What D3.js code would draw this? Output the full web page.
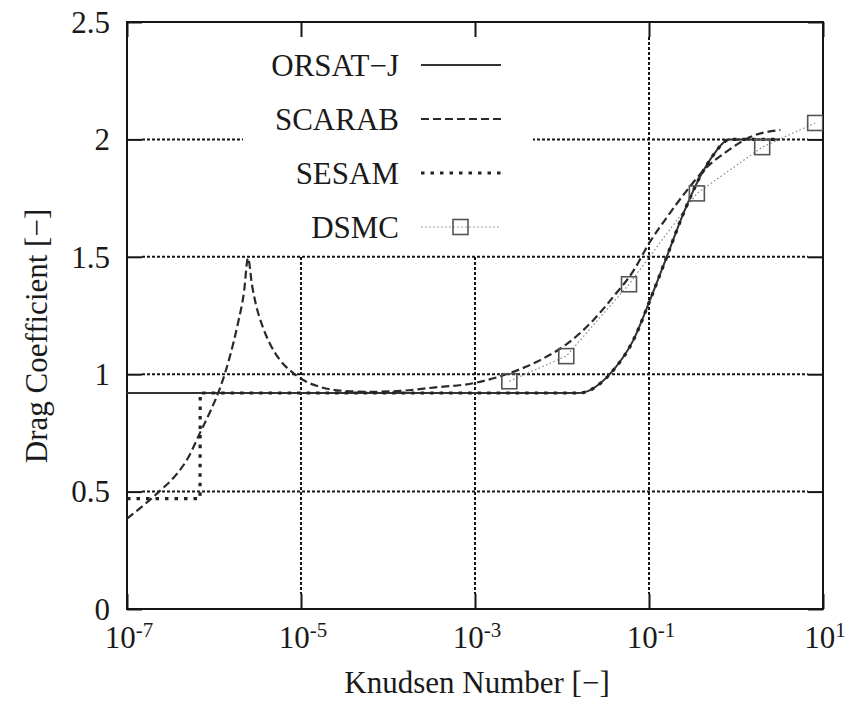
<!DOCTYPE html>
<html>
<head>
<meta charset="utf-8">
<script src="https://cdn.jsdelivr.net/npm/d3@7"></script>
<style>
  html, body { margin: 0; padding: 0; background: #fff; }
  svg text { font-family: "Liberation Serif", "Times New Roman", Times, "Nimbus Roman", "DejaVu Serif", serif; fill: #1a1a1a; }
</style>
</head>
<body>
<svg id="chart" width="845" height="702"></svg>
<script>
// ---- data ----
const xTicks = [1e-7, 1e-5, 1e-3, 1e-1, 1e1];
const xTickExp = ["-7", "-5", "-3", "-1", "1"];
const yTicks = [0, 0.5, 1, 1.5, 2, 2.5];
const yTickLabels = ["0", "0.5", "1", "1.5", "2", "2.5"];

const seriesNames = ["ORSAT\u2212J", "SCARAB", "SESAM", "DSMC"];

const orsatKn = [1e-7, 0.0161, 0.0205, 0.0274, 0.0389, 0.0661, 0.1026, 0.160, 0.248, 0.385, 0.600, 0.708, 0.851, 3.21];
const orsatCd = [0.92, 0.92, 0.93, 0.96, 1.017, 1.145, 1.315, 1.50, 1.684, 1.84, 1.953, 1.985, 2.0, 2.0];

const sesamKn = [1e-7, 6.90e-7, 6.95e-7, 0.0161, 0.0205, 0.0274, 0.0389, 0.0661, 0.1026, 0.160, 0.248, 0.385, 0.600, 0.708, 0.851, 3.21];
const sesamCd = [0.47, 0.47, 0.92, 0.92, 0.93, 0.96, 1.017, 1.145, 1.315, 1.50, 1.684, 1.84, 1.953, 1.985, 2.0, 2.0];

const scarabKn = [1e-7, 1.61e-7, 2.39e-7, 3.56e-7, 5.02e-7, 6.90e-7, 8.99e-7, 1.172e-6, 1.528e-6, 1.888e-6, 2.213e-6, 2.46e-6,
  2.735e-6, 3.04e-6, 3.565e-6, 4.405e-6, 5.74e-6, 7.89e-6, 1.112e-5, 1.652e-5, 2.805e-5, 6.21e-5,
  1.38e-4, 3.31e-4, 1e-3, 2.75e-3, 5.62e-3, 0.0115, 0.0229, 0.0389, 0.0661, 0.1, 0.162, 0.269, 0.457, 0.794, 1.45, 3.24];
const scarabCd = [0.385, 0.447, 0.503, 0.566, 0.643, 0.750, 0.839, 0.941, 1.078, 1.218, 1.350, 1.495,
  1.380, 1.295, 1.210, 1.129, 1.060, 1.009, 0.971, 0.946, 0.930, 0.925,
  0.929, 0.943, 0.963, 1.01, 1.06, 1.13, 1.23, 1.33, 1.44, 1.557, 1.67, 1.78, 1.88, 1.95, 2.01, 2.04];

const dsmcKn = [2.48e-3, 0.0112, 0.0589, 0.355, 2.0, 8.13];
const dsmcCd = [0.97, 1.077, 1.383, 1.77, 1.967, 2.07];

// ---- layout ----
const L = 127, R = 823, T = 22, B = 609;
const svg = d3.select("#chart");
const x = d3.scaleLog().domain([1e-7, 1e1]).range([L, R]);
const y = d3.scaleLinear().domain([0, 2.5]).range([B, T]);
const ink = "#151515";
const tickLen = 15;
const FONT = '"Liberation Serif", "Times New Roman", Times, "Nimbus Roman", "DejaVu Serif", serif';

// grid
const grid = svg.append("g").attr("stroke", ink).attr("stroke-width", 2).attr("stroke-dasharray", "3,2");
yTicks.filter(v => v > 0 && v < 2.5).forEach(v => {
  grid.append("line").attr("x1", L + tickLen).attr("x2", R - tickLen).attr("y1", y(v)).attr("y2", y(v));
});
xTicks.filter(v => v > 1e-7 && v < 1e1).forEach(v => {
  grid.append("line").attr("x1", x(v)).attr("x2", x(v)).attr("y1", T + tickLen).attr("y2", B - tickLen);
});

// legend background (opaque box, no border)
svg.append("rect").attr("x", 243).attr("y", T + 1).attr("width", 290).attr("height", 232).attr("fill", "#fff");

// axes: left, bottom, top, right with inward ticks
const axL = svg.append("g").attr("transform", `translate(${L},0)`)
  .call(d3.axisLeft(y).tickValues(yTicks).tickSize(-tickLen).tickFormat((d, i) => yTickLabels[i]));
const axR = svg.append("g").attr("transform", `translate(${R},0)`)
  .call(d3.axisRight(y).tickValues(yTicks).tickSize(-tickLen).tickFormat(""));
const axB = svg.append("g").attr("transform", `translate(0,${B})`)
  .call(d3.axisBottom(x).tickValues(xTicks).tickSize(-tickLen).tickFormat(""));
const axT = svg.append("g").attr("transform", `translate(0,${T})`)
  .call(d3.axisTop(x).tickValues(xTicks).tickSize(-tickLen).tickFormat(""));
[axL, axR, axB, axT].forEach(g => {
  g.attr("font-family", FONT);
  g.select(".domain").remove();
  g.selectAll(".tick line").attr("stroke", ink).attr("stroke-width", 2);
});
axL.selectAll(".tick text").attr("x", -17).attr("dy", "0.33em")
  .style("font-family", FONT).style("font-size", "31px").attr("fill", ink);

// x tick labels with superscripts
const xl = svg.append("g");
xTicks.forEach((v, i) => {
  const t = xl.append("text").attr("x", x(v) + 2).attr("y", 648).attr("text-anchor", "middle")
    .style("font-family", FONT).style("font-size", "31px");
  t.append("tspan").text("10");
  t.append("tspan").attr("dy", -11).style("font-size", "21px").text(xTickExp[i]);
});

// border
svg.append("rect").attr("x", L).attr("y", T).attr("width", R - L).attr("height", B - T)
  .attr("fill", "none").attr("stroke", ink).attr("stroke-width", 2);

// axis titles
svg.append("text").attr("x", 477).attr("y", 693).attr("text-anchor", "middle")
  .style("font-family", FONT).style("font-size", "31px").text("Knudsen Number [\u2212]");
svg.append("text").attr("transform", "translate(47,336) rotate(-90)").attr("text-anchor", "middle")
  .style("font-family", FONT).style("font-size", "31px").text("Drag Coefficient [\u2212]");

// curves
svg.append("clipPath").attr("id", "pc").append("rect")
  .attr("x", L).attr("y", T).attr("width", R - L).attr("height", B - T);
const plot = svg.append("g").attr("clip-path", "url(#pc)");
const zip = (a, b) => a.map((v, i) => [v, b[i]]);

const styles = {
  orsat: { stroke: "#333", width: 2, dash: null },
  scarab: { stroke: "#2a2a2a", width: 2.2, dash: "8,4" },
  sesam: { stroke: "#222", width: 3.2, dash: "3.5,6" },
  dsmc: { stroke: "#8a8a8a", width: 1.2, dash: "1.6,2.4" }
};
function draw(g, data, st, curve) {
  const p = g.append("path").attr("d", d3.line().x(d => x(d[0])).y(d => y(d[1])).curve(curve)(data))
    .attr("fill", "none").attr("stroke", st.stroke).attr("stroke-width", st.width);
  if (st.dash) p.attr("stroke-dasharray", st.dash);
  return p;
}
draw(plot, zip(dsmcKn, dsmcCd), styles.dsmc, d3.curveLinear);
draw(plot, zip(orsatKn, orsatCd), styles.orsat, d3.curveMonotoneX);
draw(plot, zip(scarabKn, scarabCd), styles.scarab, d3.curveMonotoneX);
draw(plot, zip(sesamKn, sesamCd), styles.sesam, d3.curveMonotoneX);
plot.selectAll("rect.mk").data(zip(dsmcKn, dsmcCd)).enter().append("rect").attr("class", "mk")
  .attr("x", d => x(d[0]) - 7.5).attr("y", d => y(d[1]) - 7.5).attr("width", 15).attr("height", 15)
  .attr("fill", "none").attr("stroke", "#555").attr("stroke-width", 1.6);

// legend
const legY = [65, 119, 173, 227];
const legKeys = ["orsat", "scarab", "sesam", "dsmc"];
const leg = svg.append("g");
seriesNames.forEach((name, i) => {
  leg.append("text").attr("x", 399).attr("y", legY[i]).attr("dy", "0.34em").attr("text-anchor", "end")
    .style("font-family", FONT).style("font-size", "31px").text(name);
  const st = styles[legKeys[i]];
  const ln = leg.append("line").attr("x1", 421).attr("x2", 501).attr("y1", legY[i]).attr("y2", legY[i])
    .attr("stroke", st.stroke).attr("stroke-width", st.width);
  if (st.dash) ln.attr("stroke-dasharray", st.dash);
  if (legKeys[i] === "dsmc") {
    leg.append("rect").attr("x", 453).attr("y", legY[i] - 7.5).attr("width", 15).attr("height", 15)
      .attr("fill", "none").attr("stroke", "#555").attr("stroke-width", 1.6);
  }
});
</script>
</body>
</html>
